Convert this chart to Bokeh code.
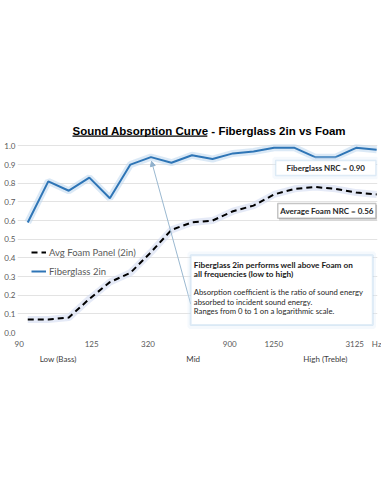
from bokeh.plotting import figure
from bokeh.models import (Range1d, FixedTicker, LinearAxis, BoxAnnotation, Label,
                          Arrow, NormalHead, Legend, LegendItem, PrintfTickFormatter)
from bokeh.embed import file_html
from bokeh.resources import INLINE

# 1/3-octave bands (categories)
bands = ["100", "125", "160", "200", "250", "315", "400", "500", "630",
         "800", "1000", "1250", "1600", "2000", "2500", "3150", "4000", "5000"]
fiberglass = [0.59, 0.81, 0.76, 0.83, 0.72, 0.90, 0.94, 0.91, 0.95,
              0.93, 0.96, 0.97, 0.99, 0.99, 0.94, 0.94, 0.99, 0.98]
foam = [0.07, 0.07, 0.08, 0.18, 0.27, 0.32, 0.43, 0.55, 0.59,
        0.60, 0.65, 0.68, 0.74, 0.77, 0.78, 0.77, 0.75, 0.74]
freq_tick_labels = ["90", "125", "320", "900", "1250", "3125", "Hz"]
range_labels = ["Low (Bass)", "Mid", "High (Treble)"]
y_ticks = [0.0, 0.1, 0.2, 0.3, 0.4, 0.5, 0.6, 0.7, 0.8, 0.9, 1.0]
fiberglass_nrc = 0.90
foam_nrc = 0.56

# layout positions (in category-index units)
freq_tick_pos = [-0.42, 3.11, 5.86, 9.84, 11.99, 15.93, 17.0]
range_tick_pos = [1.48, 8.06, 14.5]

x = list(range(len(bands)))
FONT = "Lato"
GRAY = "#595959"

p = figure(width=381, height=400, x_range=Range1d(-0.5, 17.04), y_range=Range1d(0, 1.19),
           output_backend="svg", toolbar_location=None,
           min_border_left=17, min_border_right=4, min_border_top=110, min_border_bottom=68)
p.outline_line_color = None
p.background_fill_color = "white"
p.xgrid.visible = False
p.ygrid.ticker = FixedTicker(ticks=y_ticks)
p.ygrid.grid_line_color = "#e3e3e3"


def style_axis(ax, standoff, color=GRAY):
    ax.axis_line_color = None
    ax.major_tick_line_color = None
    ax.minor_tick_line_color = None
    ax.major_tick_out = 0
    ax.major_tick_in = 0
    ax.minor_tick_out = 0
    ax.minor_tick_in = 0
    ax.major_label_standoff = standoff
    ax.major_label_text_font = FONT
    ax.major_label_text_font_size = "8px"
    ax.major_label_text_color = color


yax = p.yaxis[0]
yax.ticker = FixedTicker(ticks=y_ticks)
yax.formatter = PrintfTickFormatter(format="%.1f")
style_axis(yax, 2)

xax = p.xaxis[0]
xax.ticker = FixedTicker(ticks=freq_tick_pos)
xax.major_label_overrides = {t: l for t, l in zip(freq_tick_pos, freq_tick_labels)}
style_axis(xax, 6)

xax2 = LinearAxis(ticker=FixedTicker(ticks=range_tick_pos),
                  major_label_overrides={t: l for t, l in zip(range_tick_pos, range_labels)})
style_axis(xax2, 2, "#404040")
p.add_layout(xax2, "below")

# glow
p.line(x, fiberglass, line_color="#bdd7ee", line_width=7, line_alpha=0.55)
p.line(x, foam, line_color="#cfd8f0", line_width=7, line_alpha=0.55)
fg_r = p.line(x, fiberglass, line_color="#2e75b6", line_width=2)
foam_r = p.line(x, foam, line_color="black", line_width=2, line_dash="6 4")

legend = Legend(items=[LegendItem(label="Avg Foam Panel (2in)", renderers=[foam_r]),
                       LegendItem(label="Fiberglass 2in", renderers=[fg_r])],
                location=(14, 55), background_fill_alpha=0, border_line_color=None,
                padding=0, margin=0, spacing=7, glyph_width=15, glyph_height=12,
                label_height=12, label_standoff=3, label_text_font=FONT,
                label_text_font_size="9.5px", label_text_color=GRAY)
p.add_layout(legend)

# arrow from the note box to the curve
p.add_layout(Arrow(end=NormalHead(size=5, line_color="#8fb0cc", fill_color="#8fb0cc"),
                   x_start=7.94, y_start=0.152, x_end=6.03, y_end=0.918,
                   line_color="#9ab8d0", line_width=1))

# Fiberglass NRC box
p.add_layout(BoxAnnotation(left=12.02, right=17.0, bottom=0.832, top=0.932,
                           fill_alpha=0, line_color="#deebf7", line_width=4))
p.add_layout(BoxAnnotation(left=12.08, right=16.96, bottom=0.842, top=0.922,
                           fill_color="white", fill_alpha=1, line_color="#9dc3e6", line_width=1.5))
p.add_layout(Label(x=14.52, y=0.882, text=f"Fiberglass NRC = {fiberglass_nrc:.2f}",
                   text_align="center", text_baseline="middle", text_font=FONT,
                   text_font_style="bold", text_font_size="8px", text_color="#262626"))

# Foam NRC box (with shadow)
p.add_layout(BoxAnnotation(left=12.24, right=17.02, bottom=0.600, top=0.684,
                           fill_color="#bfbfbf", fill_alpha=0.6, line_alpha=0))
p.add_layout(BoxAnnotation(left=12.18, right=16.96, bottom=0.612, top=0.692,
                           fill_color="white", fill_alpha=1, line_color="#404040", line_width=1.5))
p.add_layout(Label(x=14.57, y=0.652, text=f"Average Foam NRC = {foam_nrc:.2f}",
                   text_align="center", text_baseline="middle", text_font=FONT,
                   text_font_style="bold", text_font_size="8px", text_color="#262626"))

# note box
p.add_layout(BoxAnnotation(left=7.88, right=16.87, bottom=0.03, top=0.424,
                           fill_alpha=0, line_color="#deebf7", line_width=4))
p.add_layout(BoxAnnotation(left=7.94, right=16.81, bottom=0.04, top=0.414,
                           fill_color="white", fill_alpha=1, line_color="#9dc3e6", line_width=2))
note_bold = ["Fiberglass 2in performs well above Foam on", "all frequencies (low to high)"]
note_text = ["Absorption coefficient is the ratio of sound energy",
             "absorbed to incident sound energy.",
             "Ranges from 0 to 1 on a logarithmic scale."]
for t, yy in zip(note_bold, [0.361, 0.311]):
    p.add_layout(Label(x=8.09, y=yy, text=t, text_baseline="middle", text_font=FONT,
                       text_font_style="bold", text_font_size="8.2px", text_color="#1a1a1a"))
for t, yy in zip(note_text, [0.215, 0.165, 0.115]):
    p.add_layout(Label(x=8.09, y=yy, text=t, text_baseline="middle", text_font=FONT,
                       text_font_size="7.7px", text_color="#262626"))

# title (underlined first part)
p.add_layout(Label(x=2.18, y=1.079, text="Sound Absorption Curve - Fiberglass 2in vs Foam",
                   text_baseline="middle", text_font="Liberation Sans",
                   text_font_style="bold", text_font_size="11.5px", text_color="black"))
p.add_layout(Arrow(end=None, start=None, x_start=2.18, y_start=1.0526, x_end=8.75, y_end=1.0526,
                   line_color="black", line_width=1.2))

open("out.html", "w").write(file_html(p, INLINE))
